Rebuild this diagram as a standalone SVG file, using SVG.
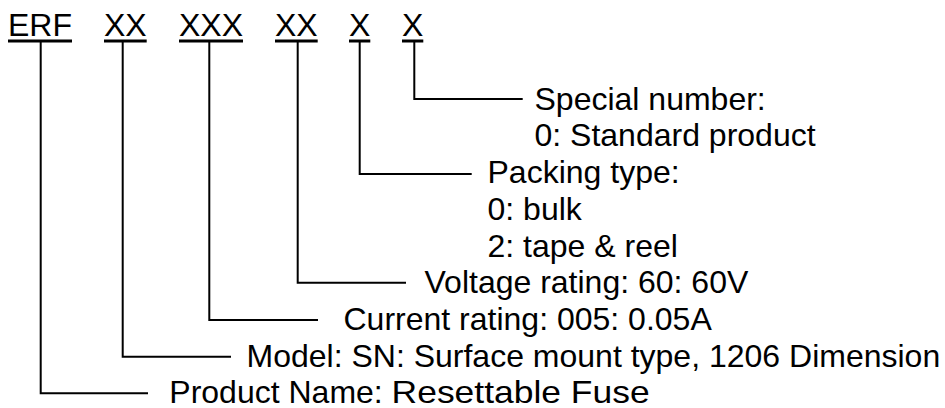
<svg xmlns="http://www.w3.org/2000/svg" width="945" height="408" viewBox="0 0 945 408">
<style>
text{font-family:"Liberation Sans",Arial,sans-serif;font-size:32px;fill:#000}
.ul{stroke:#000;stroke-width:3;fill:none}
.c{stroke:#000;stroke-width:2;fill:none}
</style>
<rect width="945" height="408" fill="#fff"/>
<g id="codes">
<g id="code-erf"><text x="8" y="36">ERF</text><line class="ul" x1="8" y1="41" x2="72" y2="41"/></g>
<g id="code-model"><text x="104" y="36">XX</text><line class="ul" x1="104" y1="41" x2="146.7" y2="41"/></g>
<g id="code-current"><text x="179" y="36">XXX</text><line class="ul" x1="179" y1="41" x2="243" y2="41"/></g>
<g id="code-voltage"><text x="275" y="36">XX</text><line class="ul" x1="275" y1="41" x2="317.7" y2="41"/></g>
<g id="code-packing"><text x="349" y="36">X</text><line class="ul" x1="349" y1="41" x2="370.3" y2="41"/></g>
<g id="code-special"><text x="402" y="36">X</text><line class="ul" x1="402" y1="41" x2="423.3" y2="41"/></g>
</g>
<g id="connectors">
<polyline class="c" points="414.3,42 414.3,99 522.7,99"/>
<polyline class="c" points="359.7,42 359.7,174 471.7,174"/>
<polyline class="c" points="297.7,42 297.7,282.7 406,282.7"/>
<polyline class="c" points="209.3,42 209.3,320 318,320"/>
<polyline class="c" points="122.7,42 122.7,356.7 231,356.7"/>
<polyline class="c" points="40.7,42 40.7,393.3 148,393.3"/>
</g>
<g id="desc-special"><text x="534.5" y="109.5">Special number:</text><text x="534.5" y="146.3">0: Standard product</text></g>
<g id="desc-packing"><text x="487.5" y="183">Packing type:</text><text x="487.5" y="219.8">0: bulk</text><text x="487.5" y="256.5">2: tape &amp; reel</text></g>
<g id="desc-voltage"><text x="424.5" y="293.3">Voltage rating: 60: 60V</text></g>
<g id="desc-current"><text x="343.5" y="330">Current rating: 005: 0.05A</text></g>
<g id="desc-model"><text x="246.5" y="366.8">Model: SN: Surface mount type, 1206 Dimension</text></g>
<g id="desc-product"><text x="169.3" y="403">Product Name: <tspan x="391.6" textLength="258" lengthAdjust="spacingAndGlyphs">Resettable Fuse</tspan></text></g>
</svg>
